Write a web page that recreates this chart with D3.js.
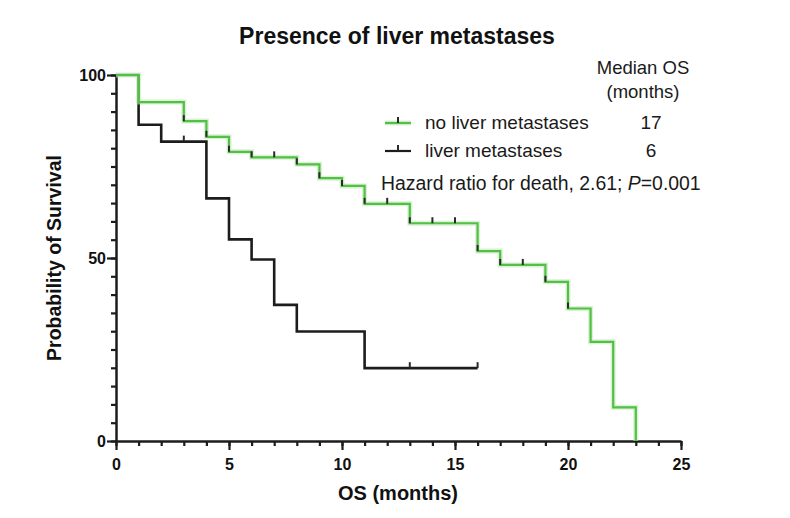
<!DOCTYPE html>
<html>
<head>
<meta charset="utf-8">
<script src="https://cdn.jsdelivr.net/npm/d3@7"></script>
<style>
  html, body { margin: 0; padding: 0; background: #ffffff; }
  svg { display: block; font-family: "Liberation Sans", Arial, Helvetica, sans-serif; }
</style>
</head>
<body>
<svg id="chart" width="790" height="518"></svg>
<script>
// ---- Data ----
const title = "Presence of liver metastases";
const xLabel = "OS (months)";
const yLabel = "Probability of Survival";

// no liver metastases (green)
const noMetsTime = [0, 1, 3, 4, 5, 6, 8, 9, 10, 11, 13, 16, 17, 19, 20, 21, 22, 23];
const noMetsSurv = [100, 92.6, 87.4, 83.1, 79.0, 77.5, 75.6, 71.8, 69.7, 64.8, 59.5, 51.9, 48.1, 43.5, 36.2, 27.1, 9.2, 0];
const noMetsCensor = [3, 4, 5, 6, 7, 8, 9, 10, 11, 12, 13, 14, 15, 16, 17, 18, 19, 20];

// liver metastases (black)
const metsTime = [0, 1, 2, 4, 5, 6, 7, 8, 11, 16];
const metsSurv = [100, 86.4, 81.8, 66.3, 55.1, 49.6, 37.2, 29.9, 19.9, 19.9];
const metsCensor = [3, 13, 16];

const seriesNames = ["no liver metastases", "liver metastases"];
const medianOS = ["17", "6"];
const xTicksMajor = [0, 5, 10, 15, 20, 25];
const xTicksMinor = d3.range(0, 26, 1);
const yTicksMajor = [0, 50, 100];
const yTicksMinor = d3.range(0, 101, 5);
const hazardText = ["Hazard ratio for death, 2.61; ", "P", "=0.001"];

// ---- Layout ----
const svg = d3.select("#chart");
const x = d3.scaleLinear().domain([0, 25]).range([116, 681]);
const y = d3.scaleLinear().domain([0, 100]).range([441, 75]);
const greenCol = "#52c043";
const darkCol = "#1c1c1c";

// Title
svg.append("text").attr("x", 397).attr("y", 44).attr("text-anchor", "middle")
  .attr("font-size", 23).attr("font-weight", "bold").attr("fill", "#111").text(title);

// Axes
const axisStroke = (g) => {
  g.select(".domain").attr("stroke", darkCol).attr("stroke-width", 2.5);
  g.selectAll(".tick line").attr("stroke", darkCol).attr("stroke-width", 2.2);
  g.selectAll(".tick text").attr("fill", "#111").attr("font-size", 16).attr("font-weight", "bold")
    .attr("font-family", "Liberation Sans, Arial, sans-serif");
};

const xMinor = svg.append("g").attr("transform", `translate(0,${y(0)})`)
  .call(d3.axisBottom(x).tickValues(xTicksMinor).tickSize(5).tickSizeOuter(0).tickFormat(""));
axisStroke(xMinor);
const xMajor = svg.append("g").attr("transform", `translate(0,${y(0)})`)
  .call(d3.axisBottom(x).tickValues(xTicksMajor).tickSize(9).tickSizeOuter(0).tickPadding(9));
axisStroke(xMajor);
xMajor.select(".domain").remove();

const yMinor = svg.append("g").attr("transform", `translate(${x(0)},0)`)
  .call(d3.axisLeft(y).tickValues(yTicksMinor).tickSize(5).tickSizeOuter(0).tickFormat(""));
axisStroke(yMinor);
const yMajor = svg.append("g").attr("transform", `translate(${x(0)},0)`)
  .call(d3.axisLeft(y).tickValues(yTicksMajor).tickSize(9).tickSizeOuter(0).tickPadding(1));
axisStroke(yMajor);
yMajor.select(".domain").remove();

// Axis titles
svg.append("text").attr("x", 398).attr("y", 500).attr("text-anchor", "middle")
  .attr("font-size", 20).attr("font-weight", "bold").attr("fill", "#111").text(xLabel);
svg.append("text").attr("transform", `translate(61,258) rotate(-90)`).attr("text-anchor", "middle")
  .attr("font-size", 19.5).attr("font-weight", "bold").attr("fill", "#111").text(yLabel);

// Survival curves
const stepLine = d3.line().x(d => x(d[0])).y(d => y(d[1])).curve(d3.curveStepAfter);
const survAt = (times, surv, t) => {
  let v = surv[0];
  for (let i = 0; i < times.length; i++) if (times[i] <= t) v = surv[i];
  return v;
};

function drawCurve(times, surv, censor, col, halo) {
  const pts = times.map((t, i) => [t, surv[i]]);
  if (halo) {
    svg.append("path").attr("d", stepLine(pts)).attr("fill", "none")
      .attr("stroke", "#bfe8b8").attr("stroke-width", 5).attr("stroke-opacity", 0.6);
  }
  svg.append("path").attr("d", stepLine(pts)).attr("fill", "none")
    .attr("stroke", col).attr("stroke-width", halo ? 2.2 : 2.6);
  svg.append("g").selectAll("line").data(censor).join("line")
    .attr("x1", d => x(d)).attr("x2", d => x(d))
    .attr("y1", d => y(survAt(times, surv, d)))
    .attr("y2", d => y(survAt(times, surv, d)) - 6)
    .attr("stroke", "#2a2a2a").attr("stroke-width", 2);
}
drawCurve(metsTime, metsSurv, metsCensor, darkCol, false);
drawCurve(noMetsTime, noMetsSurv, noMetsCensor, greenCol, true);

// Legend
const legendRows = [
  { name: seriesNames[0], col: greenCol, med: medianOS[0], y: 123 },
  { name: seriesNames[1], col: darkCol, med: medianOS[1], y: 151 }
];
svg.append("text").attr("x", 643).attr("y", 74).attr("text-anchor", "middle")
  .attr("font-size", 18.5).attr("fill", "#1a1a1a").text("Median OS");
svg.append("text").attr("x", 643).attr("y", 98).attr("text-anchor", "middle")
  .attr("font-size", 18.5).attr("fill", "#1a1a1a").text("(months)");
legendRows.forEach(r => {
  if (r.col === greenCol) {
    svg.append("line").attr("x1", 385).attr("x2", 411).attr("y1", r.y).attr("y2", r.y)
      .attr("stroke", "#bfe8b8").attr("stroke-width", 5).attr("stroke-opacity", 0.6);
  }
  svg.append("line").attr("x1", 385).attr("x2", 411).attr("y1", r.y).attr("y2", r.y)
    .attr("stroke", r.col).attr("stroke-width", 2.2);
  svg.append("line").attr("x1", 398).attr("x2", 398).attr("y1", r.y).attr("y2", r.y - 6)
    .attr("stroke", "#2a2a2a").attr("stroke-width", 2);
  svg.append("text").attr("x", 425).attr("y", r.y + 6).attr("font-size", 19)
    .attr("fill", "#1a1a1a").text(r.name);
  svg.append("text").attr("x", 651).attr("y", r.y + 6).attr("text-anchor", "middle")
    .attr("font-size", 19).attr("fill", "#1a1a1a").text(r.med);
});
const hz = svg.append("text").attr("x", 381).attr("y", 190).attr("font-size", 19.4).attr("fill", "#1a1a1a");
hz.append("tspan").text(hazardText[0]);
hz.append("tspan").attr("font-style", "italic").text(hazardText[1]);
hz.append("tspan").text(hazardText[2]);
</script>
</body>
</html>
